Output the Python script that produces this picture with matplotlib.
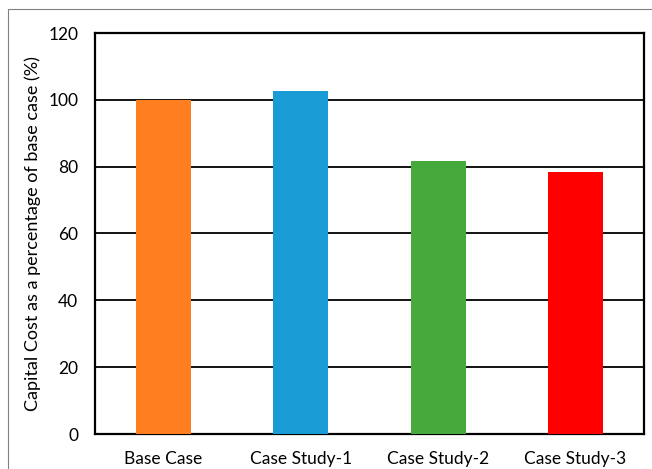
import matplotlib
matplotlib.use("Agg")
import matplotlib.pyplot as plt
from matplotlib.patches import Rectangle

# data
cases = ["Base Case", "Case Study-1", "Case Study-2", "Case Study-3"]
capital_cost = [100.0, 102.7, 81.6, 78.5]
bar_colors = ["#FF7F20", "#199BD6", "#45AA3B", "#FF0000"]
y_ticks = [0, 20, 40, 60, 80, 100, 120]

plt.rcParams['font.family'] = ['Lato', 'DejaVu Sans']

fig = plt.figure(figsize=(6.52, 4.69), dpi=100)
ax = fig.add_axes([95/652, 35/469, 549/652, 401/469])

x = range(len(cases))
ax.bar(x, capital_cost, width=0.40, color=bar_colors, zorder=3)

ax.set_xlim(-0.5, len(cases) - 0.5)
ax.set_ylim(0, 120)
ax.set_yticks(y_ticks)
ax.yaxis.grid(True, color='black', linewidth=1.3, zorder=0)
ax.set_axisbelow(True)

ax.set_xticks(list(x))
ax.set_xticklabels(cases, fontsize=12.5)
ax.tick_params(axis='y', labelsize=12.5, length=0, pad=12)
ax.tick_params(axis='x', length=0, pad=12)
ax.set_ylabel("Capital Cost as a percentage of base case (%)", fontsize=13, labelpad=5)

for s in ax.spines.values():
    s.set_linewidth(1.6)
    s.set_color('black')

# thin grey border of the chart area
fig.patches.append(Rectangle((8/652, -0.05), 1.0, 1.05 - 9/469,
                             transform=fig.transFigure, fill=False,
                             edgecolor='#808080', linewidth=0.8))

fig.savefig('out.png', dpi=100)
